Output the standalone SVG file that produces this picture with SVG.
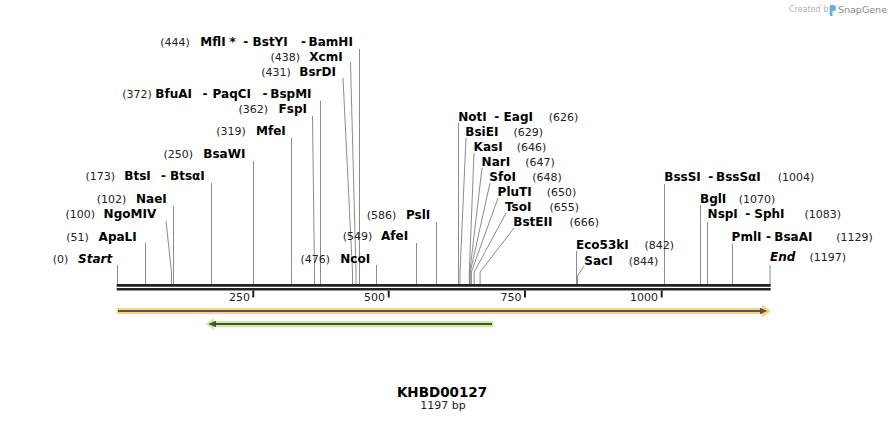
<svg xmlns="http://www.w3.org/2000/svg" width="888" height="423" viewBox="0 0 888 423">
<style>
text{font-family:"DejaVu Sans",Verdana,"Liberation Sans",sans-serif}
.n{font-size:12px;font-weight:bold;fill:#000}
.i{font-size:12px;font-weight:bold;font-style:italic;fill:#000}
.b{font-size:11px;fill:#222}
.t{font-size:11px;fill:#222;text-anchor:end}
.c path{fill:none;stroke:#8c8c8c;stroke-width:1}
.bb{stroke:#222;stroke-width:2.6}
.tk{fill:#222}
</style>
<rect width="888" height="423" fill="#fff"/>
<g id="watermark">
<text x="789" y="12" style="font-size:8px;fill:#b4b4b4">Created by</text>
<path d="M830 5 h3 a3 3 0 0 1 0 6 h-0.5 v5 h-2.5 z" fill="#5bb0e6"/>
<text x="838" y="12.5" style="font-size:9.5px;fill:#8a8a8a">SnapGene</text>
</g>
<g id="connectors" class="c">
<path d="M117.5 265V284"/>
<path d="M145.5 243V284"/>
<path d="M166 221L171.5 272V284"/>
<path d="M173.5 206V284"/>
<path d="M211.5 183V284"/>
<path d="M253.5 161V284"/>
<path d="M291.5 138V284"/>
<path d="M312.5 116L314.5 272V284"/>
<path d="M320.5 101V284"/>
<path d="M343 78L352.5 272V284"/>
<path d="M350.5 62L356 272V284"/>
<path d="M359.5 49V284"/>
<path d="M376.5 265V284"/>
<path d="M416.5 243V284"/>
<path d="M436.5 222V284"/>
<path d="M458.5 123V284"/>
<path d="M466 138L460 272V284"/>
<path d="M474 153L469.3 272V284"/>
<path d="M482 168L469.8 272V284"/>
<path d="M490 183L470.3 272V284"/>
<path d="M498 198L471.4 272V284"/>
<path d="M506 213L474.2 272V284"/>
<path d="M514 228L480.1 272V284"/>
<path d="M576.5 251V284"/>
<path d="M584 266L577.5 276V284"/>
<path d="M664.5 184V284"/>
<path d="M700.5 205V284"/>
<path d="M707.5 222V284"/>
<path d="M732.5 244V284"/>
<path d="M770 265V284"/>
</g>
<g id="backbone">
<line class="bb" x1="116.7" y1="285.4" x2="770.7" y2="285.4"/>
<line class="bb" x1="116.7" y1="289.2" x2="770.7" y2="289.2"/>
<rect class="tk" x="252.3" y="290.5" width="2" height="7"/>
<rect class="tk" x="387.7" y="290.5" width="2" height="7"/>
<rect class="tk" x="524" y="290.5" width="2" height="7"/>
<rect class="tk" x="660.7" y="290.5" width="2" height="7"/>
<text class="t" x="250" y="301">250</text>
<text class="t" x="385" y="301">500</text>
<text class="t" x="521.5" y="301">750</text>
<text class="t" x="658" y="301">1000</text>
</g>
<g id="feature-orange">
<rect x="116.7" y="308" width="646" height="6" fill="#fcd184"/>
<polygon points="762,304.5 771,311 762,317.5" fill="#fcd184"/>
<line x1="118" y1="311" x2="761" y2="311" stroke="#555" stroke-width="2"/>
<polygon points="760,307.8 767.5,311 760,314.2" fill="#555"/>
</g>
<g id="feature-green">
<rect x="213" y="321" width="280.3" height="6" fill="#c3f393"/>
<polygon points="214,318 205.5,324 214,330" fill="#c3f393"/>
<line x1="215" y1="324" x2="492" y2="324" stroke="#4a4a4a" stroke-width="2"/>
<polygon points="216,320.8 208.3,324 216,327.2" fill="#4a4a4a"/>
</g>
<g id="site-444"><text class="b" x="160.2" y="46">(444)</text><text class="n" y="46"><tspan x="200.3">MflI</tspan><tspan x="229.5">*</tspan><tspan x="243.3">-</tspan><tspan x="252.6">BstYI</tspan><tspan x="301">-</tspan><tspan x="308.6">BamHI</tspan></text></g>
<g id="site-438"><text class="b" x="270.5" y="61">(438)</text><text class="n" x="309.3" y="61">XcmI</text></g>
<g id="site-431"><text class="b" x="261.2" y="76">(431)</text><text class="n" x="299.3" y="76">BsrDI</text></g>
<g id="site-372"><text class="b" x="122.2" y="98">(372)</text><text class="n" y="98"><tspan x="155.3">BfuAI</tspan><tspan x="202.6">-</tspan><tspan x="212.6">PaqCI</tspan><tspan x="262.6">-</tspan><tspan x="270.3">BspMI</tspan></text></g>
<g id="site-362"><text class="b" x="238.5" y="113">(362)</text><text class="n" x="278.6" y="113">FspI</text></g>
<g id="site-319"><text class="b" x="216.2" y="135">(319)</text><text class="n" x="256" y="135">MfeI</text></g>
<g id="site-250"><text class="b" x="163.5" y="158">(250)</text><text class="n" x="203.3" y="158">BsaWI</text></g>
<g id="site-173"><text class="b" x="85.5" y="180">(173)</text><text class="n" y="180"><tspan x="124.3">BtsI</tspan><tspan x="161">-</tspan><tspan x="170">BtsαI</tspan></text></g>
<g id="site-102"><text class="b" x="96.8" y="203">(102)</text><text class="n" x="136" y="203">NaeI</text></g>
<g id="site-100"><text class="b" x="65.5" y="218">(100)</text><text class="n" x="103.6" y="218">NgoMIV</text></g>
<g id="site-51"><text class="b" x="66.2" y="241">(51)</text><text class="n" x="98.6" y="241">ApaLI</text></g>
<g id="site-0"><text class="b" x="52.8" y="263">(0)</text><text class="i" x="78" y="263">Start</text></g>
<g id="site-476"><text class="b" x="300.5" y="263">(476)</text><text class="n" x="340.3" y="263">NcoI</text></g>
<g id="site-549"><text class="b" x="342.8" y="240">(549)</text><text class="n" x="381" y="240">AfeI</text></g>
<g id="site-586"><text class="b" x="366.8" y="219">(586)</text><text class="n" x="406" y="219">PslI</text></g>
<g id="site-626"><text class="n" y="121"><tspan x="458.3">NotI</tspan><tspan x="494.3">-</tspan><tspan x="503.6">EagI</tspan></text><text class="b" x="548.8" y="121">(626)</text></g>
<g id="site-629"><text class="n" x="465.3" y="136">BsiEI</text><text class="b" x="513.5" y="136">(629)</text></g>
<g id="site-646"><text class="n" x="473.6" y="151">KasI</text><text class="b" x="516.8" y="151">(646)</text></g>
<g id="site-647"><text class="n" x="481.6" y="166">NarI</text><text class="b" x="525.2" y="166">(647)</text></g>
<g id="site-648"><text class="n" x="489.3" y="181">SfoI</text><text class="b" x="532.2" y="181">(648)</text></g>
<g id="site-650"><text class="n" x="497.6" y="196">PluTI</text><text class="b" x="546.8" y="196">(650)</text></g>
<g id="site-655"><text class="n" x="505" y="211">TsoI</text><text class="b" x="549.5" y="211">(655)</text></g>
<g id="site-666"><text class="n" x="513.3" y="226">BstEII</text><text class="b" x="569.5" y="226">(666)</text></g>
<g id="site-842"><text class="n" x="576" y="249">Eco53kI</text><text class="b" x="644.5" y="249">(842)</text></g>
<g id="site-844"><text class="n" x="584.3" y="264.5">SacI</text><text class="b" x="628.8" y="264.5">(844)</text></g>
<g id="site-1004"><text class="n" y="181"><tspan x="664.3">BssSI</tspan><tspan x="708.3">-</tspan><tspan x="716">BssSαI</tspan></text><text class="b" x="777.8" y="181">(1004)</text></g>
<g id="site-1070"><text class="n" x="700" y="203.3">BglI</text><text class="b" x="738.8" y="203.3">(1070)</text></g>
<g id="site-1083"><text class="n" y="218.3"><tspan x="707.6">NspI</tspan><tspan x="745.3">-</tspan><tspan x="754.3">SphI</tspan></text><text class="b" x="804.5" y="218.3">(1083)</text></g>
<g id="site-1129"><text class="n" y="241"><tspan x="731.6">PmlI</tspan><tspan x="766">-</tspan><tspan x="774.3">BsaAI</tspan></text><text class="b" x="836.2" y="241">(1129)</text></g>
<g id="site-1197"><text class="i" x="770" y="261">End</text><text class="b" x="809.5" y="261">(1197)</text></g>
<g id="title">
<text x="442" y="397" text-anchor="middle" style="font-size:13.5px;font-weight:bold;fill:#000">KHBD00127</text>
<text x="443" y="408.5" text-anchor="middle" style="font-size:11px;fill:#222">1197 bp</text>
</g>
</svg>
